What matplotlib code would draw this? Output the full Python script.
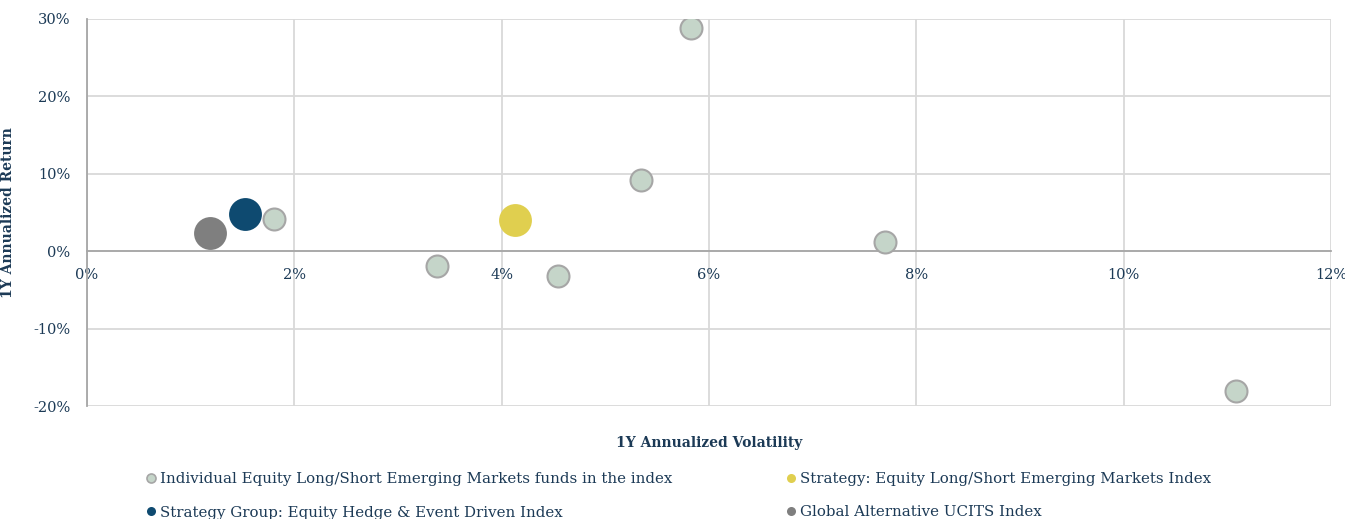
import matplotlib

matplotlib.use("Agg")
import matplotlib.pyplot as plt
from matplotlib.lines import Line2D
from matplotlib.ticker import FuncFormatter

# 1Y annualized volatility (%) and return (%)
fund_vol = [1.80, 3.38, 4.54, 5.34, 5.83, 7.70, 11.08]
fund_ret = [4.1, -1.9, -3.2, 9.2, 28.8, 1.2, -18.0]
strategy_vol, strategy_ret = [4.13], [4.0]
group_vol, group_ret = [1.52], [4.8]
ucits_vol, ucits_ret = [1.19], [2.3]

labels = [
    "Individual Equity Long/Short Emerging Markets funds in the index",
    "Strategy Group: Equity Hedge & Event Driven Index",
    "Strategy: Equity Long/Short Emerging Markets Index",
    "Global Alternative UCITS Index",
]

INK = "#1c3a56"
FUND, FUND_EDGE = "#c5d5c9", "#a6a6a6"
GROUP, STRAT, UCITS = "#0e4a70", "#e0cf4f", "#7f7f7f"
GRID, AXIS = "#d9d9d9", "#a6a6a6"

plt.rcParams.update({"font.family": "DejaVu Serif", "font.size": 10.5})

fig = plt.figure(figsize=(13.45, 5.19), dpi=100)
ax = fig.add_axes([87 / 1345, 1 - 406 / 519, 1244 / 1345, 387 / 519])

ax.scatter(ucits_vol, ucits_ret, s=560, color=UCITS, zorder=3, linewidths=0)
ax.scatter(group_vol, group_ret, s=560, color=GROUP, zorder=3, linewidths=0)
ax.scatter(strategy_vol, strategy_ret, s=560, color=STRAT, zorder=3, linewidths=0)
ax.scatter(fund_vol, fund_ret, s=250, color=FUND, edgecolor=FUND_EDGE,
           linewidths=1.5, zorder=3)

ax.set_xlim(0, 12)
ax.set_ylim(-20, 30)
ax.set_xticks(range(0, 13, 2))
ax.set_yticks(range(-20, 31, 10))
pct = FuncFormatter(lambda v, _: f"{v:.0f}%")
ax.xaxis.set_major_formatter(pct)
ax.yaxis.set_major_formatter(pct)

ax.grid(True, color=GRID, linewidth=1.3)
ax.set_axisbelow(True)
for side in ("top", "right"):
    ax.spines[side].set_visible(False)
ax.spines["bottom"].set_position(("data", 0))
ax.spines["bottom"].set_color(AXIS)
ax.spines["left"].set_color(AXIS)
ax.spines["bottom"].set_linewidth(1.3)
ax.spines["left"].set_linewidth(1.3)
ax.tick_params(length=0, colors=INK, labelsize=10.5)
ax.tick_params(axis="x", pad=12)
ax.tick_params(axis="y", pad=12)

ax.set_xlabel("1Y Annualized Volatility", fontweight="bold", color=INK, fontsize=10)
ax.xaxis.set_label_coords(0.5, -0.078)
ax.set_ylabel("1Y Annualized Return", fontweight="bold", color=INK, fontsize=10)
ax.yaxis.set_label_coords(-0.058, 0.5)


def handle(color, edge=None):
    return Line2D([], [], marker="o", linestyle="none", markersize=6.5,
                  markerfacecolor=color, markeredgecolor=edge or color,
                  markeredgewidth=1.2 if edge else 0)


common = dict(loc="upper left", frameon=False, borderpad=0, borderaxespad=0,
              handletextpad=0.15, handlelength=0.9, labelspacing=1.3,
              fontsize=10.8, labelcolor=INK)
fig.legend([handle(FUND, FUND_EDGE), handle(GROUP)], labels[:2],
           bbox_to_anchor=(144 / 1345, 1 - 472 / 519), **common)
fig.legend([handle(STRAT), handle(UCITS)], labels[2:],
           bbox_to_anchor=(784 / 1345, 1 - 472 / 519), **common)

fig.savefig("out.png", dpi=100)
